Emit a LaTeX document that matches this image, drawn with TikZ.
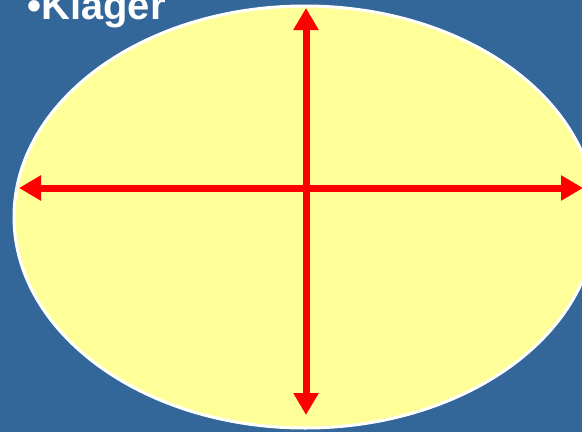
\documentclass[tikz,border=0pt]{standalone}
\usepackage{fontspec}
\setmainfont{Liberation Sans}
\usetikzlibrary{arrows.meta,shapes.geometric}
\definecolor{bgblue}{HTML}{336699}
\definecolor{ellyellow}{HTML}{FFFF99}
\tikzset{
  redarrow/.style={draw=red, line width=7pt, {Triangle[length=22pt,width=24pt]}-{Triangle[length=22pt,width=24pt]}},
  pxpic/.style={x=1pt,y=-1pt}
}
\begin{document}
\begin{tikzpicture}[pxpic]
\fill[bgblue] (0,0) rectangle (582,432);
\useasboundingbox (0,0) rectangle (582,432);
\node[draw=white, line width=3pt, fill=ellyellow, ellipse, minimum width=582pt, minimum height=422pt, inner sep=0pt] (ell) at (305,217) {};
\node[anchor=base west, text=white, font=\fontsize{40}{44}\selectfont\bfseries, inner sep=0pt] (title) at (27,19) {•Kläger};
\coordinate (L) at (19,188);
\coordinate (R) at (583,188);
\coordinate (T) at (306,8);
\coordinate (B) at (306,415);
\draw[redarrow] (L) -- (R);
\draw[redarrow] (T) -- (B);
\end{tikzpicture}
\end{document}
